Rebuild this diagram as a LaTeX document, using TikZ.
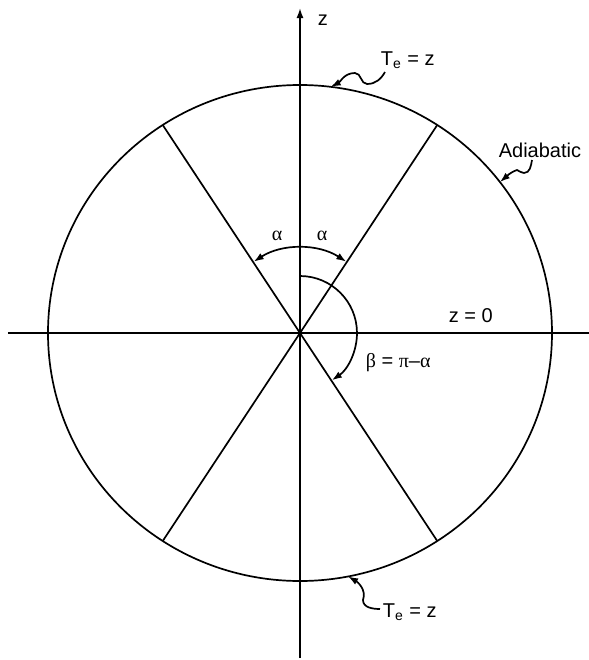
\documentclass[tikz,border=0pt]{standalone}
\usepackage{fontspec}
\setmainfont{Liberation Sans}
\newfontfamily\greek{Liberation Serif}
\usetikzlibrary{arrows.meta}
\tikzset{tip/.style = {-{Latex[length=5pt,width=3.5pt]}}}
\tikzset{tips/.style = {{Latex[length=5pt,width=3.5pt]}-{Latex[length=5pt,width=3.5pt]}}}
\tikzset{lbl/.style = {inner sep=1pt, anchor=base west}}
\tikzset{
  every picture/.style={
    every path/.style={line width=0.85pt},
  }
}

\begin{document}
\begin{tikzpicture}[x=0.5pt, y=0.5pt]
        \useasboundingbox (-300,-327) rectangle (289,333);
        \coordinate (o) at (0,0);
        \draw (o) ellipse [x radius=252, y radius=248];
        \coordinate (ur) at (57:252 and 248);
        \coordinate (ul) at (123:252 and 248);
        \coordinate (dl) at (237:252 and 248);
        \coordinate (dr) at (303:252 and 248);
        \coordinate (ctop) at (83:252 and 248);
        \coordinate (cadi) at (37.5:252 and 248);
        \coordinate (cbot) at (-79:252 and 248);
        \draw (-292,0) -- (289,0);
        \draw[tip] (0,-325) -- (0,325);
        \draw (ur) -- (dl);
        \draw (ul) -- (dr);
        \node[lbl] (zax) at (15,308) {z};
        \node[lbl] (zzero) at (146,11) {z = 0};
        \node[lbl] (tetop) at (78,268) {T\textsubscript{e} = z};
        \node[lbl] (tebot) at (80,-284) {T\textsubscript{e} = z};
        \node[lbl] (adiab) at (196,176) {Adiabatic};
        \node[lbl] (beta) at (63,-34) {{\greek β} = {\greek π}–{\greek α}};
        \node (alphal) at (-23,97) {\greek α};
        \node (alphar) at (22,97) {\greek α};
        \draw[tips] (123:85) arc[start angle=123, end angle=57, radius=85];
        \draw[tip] (90:57) arc[start angle=90, end angle=-56, radius=57];
        \draw[tip] ([shift={(7,-7)}]tetop.base west) to[out=-120,in=0] ++(-18,-12)
            to[out=180,in=0] ++(-12,11) to[out=180,in=27] (ctop);
        \draw[tip] ([shift={(36,-3)}]adiab.base west) to[out=-100,in=0] ++(-8,-13)
            to[out=180,in=-20] ++(-7,3) to[out=200,in=40] (cadi);
        \draw[tip] ([shift={(0,8)}]tebot.base west) to[out=180,in=-90] ++(-17,9)
            to[out=70,in=-30] (cbot);
\end{tikzpicture}
\end{document}
